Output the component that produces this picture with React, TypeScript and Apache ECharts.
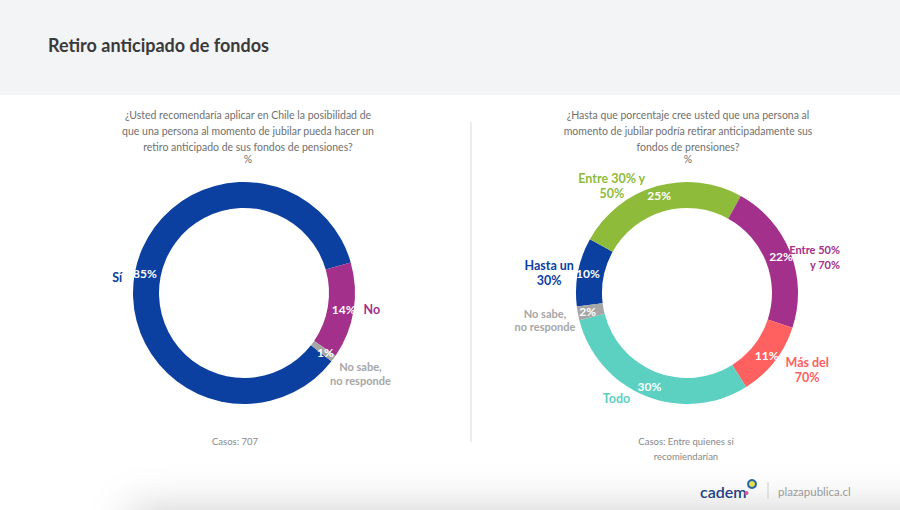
import React, { useEffect, useRef } from "react";
import * as echarts from "echarts";

// ---- data ----
const leftCategories = ["Sí", "No", "No sabe, no responde"];
const leftValues = [85, 14, 1];
const leftLabels = ["Sí", "No", "No sabe,\nno responde"];

const rightCategories = [
  "Hasta un 30%",
  "Entre 30% y 50%",
  "Entre 50% y 70%",
  "Más del 70%",
  "Todo",
  "No sabe, no responde",
];
const rightValues = [10, 25, 22, 11, 30, 2];
const rightLabels = ["Hasta un\n30%", "Entre 30% y\n50%", "Entre 50%\ny 70%", "Más del\n70%", "Todo", "No sabe,\nno responde"];

const title = "Retiro anticipado de fondos";
const leftQuestion =
  "¿Usted recomendaría aplicar en Chile la posibilidad de\nque una persona al momento de jubilar pueda hacer un\nretiro anticipado de sus fondos de pensiones?";
const rightQuestion =
  "¿Hasta que porcentaje cree usted que una persona al\nmomento de jubilar podría retirar anticipadamente sus\nfondos de prensiones?";
const leftCases = "Casos: 707";
const rightCases = "Casos: Entre quienes sí\nrecomiendarían";

// ---- styles ----
const FONT = "Lato, 'Open Sans', sans-serif";
const leftColors = ["#0B3FA0", "#A3308A", "#A6A6A6"];
const leftLabelColors = ["#0B3FA0", "#A3308A", "#A6A6A6"];
const rightColors = ["#0B3FA0", "#8FBB3B", "#A3308A", "#FF6060", "#5CD1C1", "#A6A6A6"];
const rightLabelColors = ["#0B3FA0", "#8FBB3B", "#A3308A", "#FF6060", "#5CD1C1", "#A6A6A6"];

const leftNudges = [
  { dx: -7, dy: 7, align: "right", size: 12.5, lh: 15 },
  { dx: 4, dy: -2, align: "left", size: 12.5, lh: 15 },
  { dx: 22, dy: 11, align: "center", size: 11, lh: 14 },
];
const rightNudges = [
  { dx: -23, dy: 2, align: "center", size: 12.5, lh: 15 },
  { dx: -43, dy: 5.5, align: "center", size: 12.5, lh: 15 },
  { dx: 44, dy: 7, align: "right", size: 11, lh: 15 },
  { dx: 28, dy: 5, align: "center", size: 12.5, lh: 15 },
  { dx: -27, dy: -3, align: "center", size: 12.5, lh: 15 },
  { dx: -27, dy: 5, align: "center", size: 11, lh: 13 },
];

function makeDonut(
  center: [number, number],
  startAngle: number,
  cats: string[],
  vals: number[],
  labels: string[],
  colors: string[],
  labelColors: string[],
  nudges: { dx: number; dy: number; align: string; size: number; lh: number }[]
) {
  const radius = [85, 111];
  const inner = {
    type: "pie",
    center,
    radius,
    startAngle,
    clockwise: true,
    avoidLabelOverlap: false,
    silent: true,
    emphasis: { disabled: true },
    label: {
      show: true,
      position: "inside",
      formatter: "{c}%",
      color: "#ffffff",
      fontWeight: "bold",
      fontSize: 12,
      fontFamily: FONT,
    },
    labelLine: { show: false },
    data: cats.map((n, i) => ({ name: n, value: vals[i], itemStyle: { color: colors[i] } })),
  };
  const outer = {
    type: "pie",
    center,
    radius,
    startAngle,
    clockwise: true,
    avoidLabelOverlap: false,
    silent: true,
    emphasis: { disabled: true },
    label: {
      show: true,
      position: "outside",
      distanceToLabelLine: 0,
      fontWeight: "bold",
      fontSize: 12.5,
      lineHeight: 15,
      fontFamily: FONT,
    },
    labelLine: { show: false, length: 6, length2: 0 },
    labelLayout: (p: any) => {
      const n = nudges[p.dataIndex];
      return { dx: n.dx, dy: n.dy, align: n.align, verticalAlign: "middle" };
    },
    data: cats.map((n, i) => ({
      name: n,
      value: vals[i],
      itemStyle: { color: "rgba(0,0,0,0)" },
      label: {
        formatter: labels[i],
        color: labelColors[i],
        fontSize: nudges[i].size,
        lineHeight: nudges[i].lh,
      },
    })),
  };
  return [inner, outer];
}

export default function App() {
  const ref = useRef<HTMLDivElement>(null);
  useEffect(() => {
    if (!ref.current) return;
    const chart = echarts.init(ref.current, null, { renderer: "svg" });
    const qStyle = {
      fill: "#707070",
      fontSize: 10.5,
      lineHeight: 16,
      fontFamily: FONT,
      align: "center",
      verticalAlign: "top",
    };
    chart.setOption({
      animation: false,
      backgroundColor: "#ffffff",
      graphic: [
        { type: "rect", shape: { x: 0, y: 0, width: 900, height: 95 }, style: { fill: "#f3f4f6" }, z: -10 },
        {
          type: "rect",
          shape: { x: 130, y: 514, width: 900, height: 60 },
          style: { fill: "#ffffff", shadowBlur: 40, shadowColor: "rgba(0,0,0,0.18)", shadowOffsetY: -6 },
          z: -9,
        },
        {
          type: "text",
          x: 48,
          y: 45,
          style: { text: title, fill: "#3a3a3a", fontSize: 18, fontWeight: "bold", fontFamily: FONT, verticalAlign: "middle" },
        },
        { type: "text", x: 248, y: 107, style: { ...qStyle, text: leftQuestion } },
        { type: "text", x: 248, y: 151, style: { ...qStyle, text: "%" } },
        { type: "text", x: 688, y: 107, style: { ...qStyle, text: rightQuestion } },
        { type: "text", x: 688, y: 151, style: { ...qStyle, text: "%" } },
        {
          type: "line",
          shape: { x1: 471, y1: 122, x2: 471, y2: 442 },
          style: { stroke: "#d9d9d9", lineWidth: 1 },
        },
        {
          type: "text",
          x: 235,
          y: 441,
          style: { text: leftCases, fill: "#888888", fontSize: 9.5, fontFamily: FONT, align: "center", verticalAlign: "middle" },
        },
        {
          type: "text",
          x: 686,
          y: 449,
          style: {
            text: rightCases,
            fill: "#888888",
            fontSize: 9.5,
            lineHeight: 15,
            fontFamily: FONT,
            align: "center",
            verticalAlign: "middle",
          },
        },
        {
          type: "text",
          x: 700,
          y: 491,
          style: { text: "cadem", fill: "#1d4282", fontSize: 16, fontWeight: 600, fontFamily: FONT, verticalAlign: "middle" },
        },
        {
          type: "circle",
          shape: { cx: 752, cy: 484, r: 4 },
          style: { fill: "#e4e24a", stroke: "#2b64a8", lineWidth: 2 },
        },
        { type: "circle", shape: { cx: 746.5, cy: 493, r: 2 }, style: { fill: "#d65b9c" } },
        {
          type: "line",
          shape: { x1: 768, y1: 482, x2: 768, y2: 499 },
          style: { stroke: "#cccccc", lineWidth: 1 },
        },
        {
          type: "text",
          x: 778,
          y: 491,
          style: { text: "plazapublica.cl", fill: "#9a9a9a", fontSize: 11.5, fontFamily: FONT, verticalAlign: "middle" },
        },
      ],
      series: [
        ...makeDonut([244, 293], 322, leftCategories, leftValues, leftLabels, leftColors, leftLabelColors, leftNudges),
        ...makeDonut([687, 293], 187, rightCategories, rightValues, rightLabels, rightColors, rightLabelColors, rightNudges),
      ],
    });
    return () => chart.dispose();
  }, []);
  return <div ref={ref} style={{ position: "fixed", left: 0, top: 0, width: 900, height: 510 }} />;
}
